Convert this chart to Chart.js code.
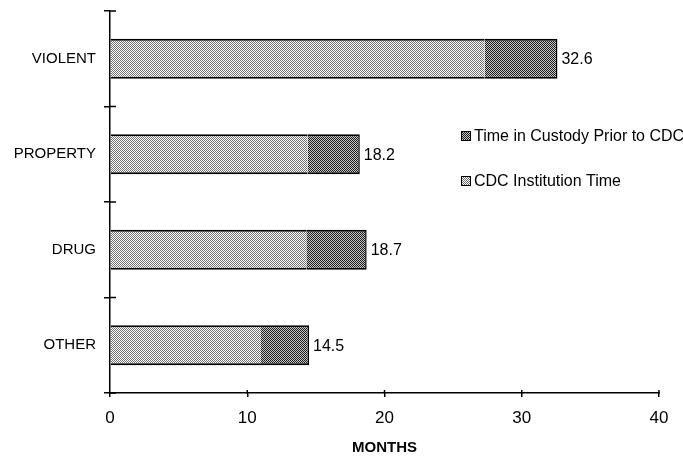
<!DOCTYPE html>
<html>
<head>
<meta charset="utf-8">
<script src="https://cdn.jsdelivr.net/npm/chart.js@4/dist/chart.umd.min.js"></script>
<style>
  html, body { margin: 0; padding: 0; background: #fff; }
  #wrap { width: 683px; height: 457px; position: relative; }
</style>
</head>
<body>
<div id="wrap"><canvas id="chart"></canvas></div>
<script>
// Months served, by offense category
const categories = ['VIOLENT', 'PROPERTY', 'DRUG', 'OTHER'];
const institutionTime = [27.3, 14.4, 14.3, 11.0];
const custodyTime = [5.3, 3.8, 4.4, 3.5];
const seriesNames = ['CDC Institution Time', 'Time in Custody Prior to CDC'];
const xTicks = [0, 10, 20, 30, 40];

const FONT = '"Liberation Sans", Arial, sans-serif';

// small bitmap fills to imitate the printed shading
function makePattern(dark, light, cells) {
    const c = document.createElement('canvas');
    c.width = 2; c.height = 2;
    const g = c.getContext('2d');
    g.fillStyle = light;
    g.fillRect(0, 0, 2, 2);
    g.fillStyle = dark;
    cells.forEach(p => g.fillRect(p[0], p[1], 1, 1));
    return g.createPattern(c, 'repeat');
}
const lightFill = makePattern('#707070', '#ffffff', [[0, 0], [1, 1]]);
const darkFill = makePattern('#1a1a1a', '#c8c8c8', [[0, 0], [1, 1]]);

// total labels at the end of each bar
const totalLabels = {
    id: 'totalLabels',
    afterDatasetsDraw(chart) {
        const ctx = chart.ctx;
        const meta = chart.getDatasetMeta(1);
        ctx.save();
        ctx.font = '16px ' + FONT;
        ctx.fillStyle = '#000';
        ctx.textAlign = 'left';
        ctx.textBaseline = 'middle';
        meta.data.forEach((bar, i) => {
            const total = (institutionTime[i] + custodyTime[i]).toFixed(1);
            ctx.fillText(total, bar.x + 4, bar.y + 1);
        });
        ctx.restore();
    }
};

// tick marks that cross the axis lines, plus the side legend
const extras = {
    id: 'extras',
    afterDraw(chart) {
        const ctx = chart.ctx;
        const xs = chart.scales.x, ys = chart.scales.y;
        ctx.save();
        ctx.strokeStyle = '#000';
        ctx.lineWidth = 1.5;
        const n = categories.length;
        for (let i = 0; i <= n; i++) {
            const y = ys.top + i * (ys.bottom - ys.top) / n;
            ctx.beginPath();
            ctx.moveTo(xs.left - 1, y);
            ctx.lineTo(xs.left + 6, y);
            ctx.stroke();
        }
        xTicks.slice(1).forEach(v => {
            const x = xs.getPixelForValue(v);
            ctx.beginPath();
            ctx.moveTo(x, ys.bottom - 3);
            ctx.lineTo(x, ys.bottom + 1);
            ctx.stroke();
        });

        // legend, custody listed first
        const items = [
            { text: seriesNames[1], fill: darkFill },
            { text: seriesNames[0], fill: lightFill }
        ];
        ctx.font = '16px ' + FONT;
        ctx.textBaseline = 'middle';
        ctx.textAlign = 'left';
        items.forEach((it, k) => {
            const y = 136 + k * 45;
            ctx.fillStyle = it.fill;
            ctx.fillRect(461, y - 5, 10, 10);
            ctx.lineWidth = 1;
            ctx.strokeRect(461.5, y - 4.5, 9, 9);
            ctx.fillStyle = '#000';
            ctx.fillText(it.text, 474, y + 1);
        });
        ctx.restore();
    }
};

new Chart(document.getElementById('chart'), {
    type: 'bar',
    data: {
        labels: categories,
        datasets: [
            {
                label: seriesNames[0],
                data: institutionTime,
                backgroundColor: lightFill,
                borderColor: '#000',
                borderWidth: { top: 2, bottom: 2, left: 0, right: 0 },
                borderSkipped: false
            },
            {
                label: seriesNames[1],
                data: custodyTime,
                backgroundColor: darkFill,
                borderColor: '#000',
                borderWidth: { top: 2, bottom: 2, left: 0, right: 1.5 },
                borderSkipped: false
            }
        ]
    },
    options: {
        indexAxis: 'y',
        responsive: true,
        maintainAspectRatio: false,
        animation: false,
        layout: { padding: { top: 11, right: 24, left: 0, bottom: 0 } },
        datasets: { bar: { categoryPercentage: 1, barPercentage: 0.42 } },
        plugins: {
            legend: { display: false },
            tooltip: { enabled: false }
        },
        scales: {
            x: {
                stacked: true,
                min: 0,
                max: 40,
                afterBuildTicks: s => { s.ticks = xTicks.map(v => ({ value: v })); },
                afterFit: s => { s.height = 64; },
                grid: { drawOnChartArea: false, color: '#000', lineWidth: 1.5, tickLength: 4 },
                border: { color: '#000', width: 1.5 },
                ticks: { color: '#000', font: { family: FONT, size: 17 }, padding: 11, maxRotation: 0 },
                title: {
                    display: true,
                    text: 'MONTHS',
                    color: '#000',
                    font: { family: FONT, size: 15, weight: 'bold' },
                    padding: { top: 0, bottom: 0 }
                }
            },
            y: {
                stacked: true,
                afterFit: s => { s.width = 110; s.paddingTop = 0; s.paddingBottom = 0; },
                grid: { drawOnChartArea: false, color: '#000', lineWidth: 1.5, tickLength: 6, offset: true },
                border: { color: '#000', width: 1.5 },
                ticks: { color: '#000', font: { family: FONT, size: 15 }, padding: 8 }
            }
        }
    },
    plugins: [totalLabels, extras]
});
</script>
</body>
</html>
